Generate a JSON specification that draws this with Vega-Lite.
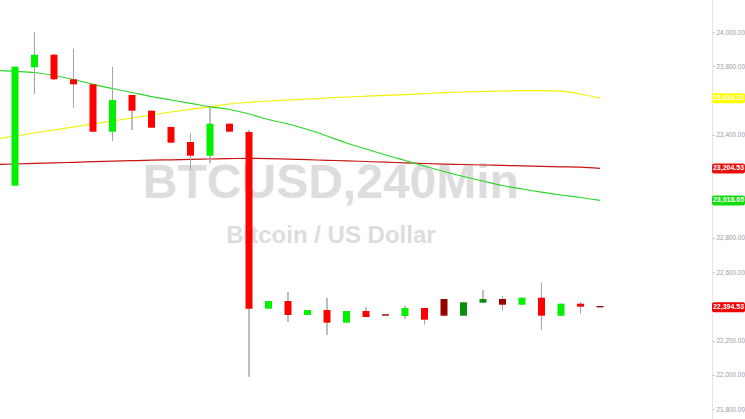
{
  "$schema": "https://vega.github.io/schema/vega-lite/v6.json",
  "width": 712,
  "height": 419,
  "autosize": {"type": "none"},
  "padding": {"left": 0, "top": 0, "right": 33, "bottom": 0},
  "background": "#ffffff",
  "config": {"view": {"stroke": null}, "scale": {"continuousPadding": 0}, "axis": {"labelOverlap": false, "labelFlush": false}},
  "resolve": {"scale": {"color": "independent"}},
  "datasets": {
    "candles": [
      {"i": 1, "open": 23103.8, "high": 23797.7, "low": 23103.8, "close": 23797.7, "kind": "up"},
      {"i": 2, "open": 23794.2, "high": 24000, "low": 23638.5, "close": 23867.6, "kind": "up"},
      {"i": 3, "open": 23867.6, "high": 23870, "low": 23720, "close": 23724.2, "kind": "down"},
      {"i": 4, "open": 23724.2, "high": 23900.9, "low": 23558.6, "close": 23695, "kind": "down"},
      {"i": 5, "open": 23695, "high": 23697, "low": 23416, "close": 23418.7, "kind": "down"},
      {"i": 6, "open": 23418.7, "high": 23795.9, "low": 23366.2, "close": 23603.5, "kind": "up"},
      {"i": 7, "open": 23632.6, "high": 23633, "low": 23428.6, "close": 23541.1, "kind": "down"},
      {"i": 8, "open": 23541.1, "high": 23542, "low": 23440, "close": 23442, "kind": "down"},
      {"i": 9, "open": 23446.1, "high": 23447, "low": 23354, "close": 23354.5, "kind": "down"},
      {"i": 10, "open": 23358.6, "high": 23409.3, "low": 23195.3, "close": 23278.7, "kind": "down"},
      {"i": 11, "open": 23278.7, "high": 23568.5, "low": 23234.4, "close": 23465.3, "kind": "up"},
      {"i": 12, "open": 23465.3, "high": 23466, "low": 23418, "close": 23418.7, "kind": "down"},
      {"i": 13, "open": 23416.9, "high": 23428.6, "low": 21990, "close": 22386.6, "kind": "down"},
      {"i": 14, "open": 22386.6, "high": 22431.5, "low": 22386.6, "close": 22431.5, "kind": "up"},
      {"i": 15, "open": 22431.5, "high": 22483.9, "low": 22310.8, "close": 22349.8, "kind": "down"},
      {"i": 16, "open": 22349.8, "high": 22379, "low": 22349.8, "close": 22379, "kind": "up"},
      {"i": 17, "open": 22379, "high": 22449, "low": 22233.2, "close": 22305, "kind": "down"},
      {"i": 18, "open": 22305, "high": 22373.2, "low": 22305, "close": 22373.2, "kind": "up"},
      {"i": 19, "open": 22373.2, "high": 22396.5, "low": 22338.2, "close": 22338.2, "kind": "down"},
      {"i": 20, "open": 22354, "high": 22354, "low": 22346, "close": 22346, "kind": "down-dark"},
      {"i": 21, "open": 22344, "high": 22404, "low": 22326.5, "close": 22390.6, "kind": "up"},
      {"i": 22, "open": 22390.6, "high": 22391, "low": 22295.6, "close": 22322.4, "kind": "down"},
      {"i": 23, "open": 22443.1, "high": 22443.1, "low": 22345.7, "close": 22345.7, "kind": "down-dark"},
      {"i": 24, "open": 22345.7, "high": 22423.9, "low": 22345.7, "close": 22423.9, "kind": "up-dark"},
      {"i": 25, "open": 22421.6, "high": 22495.6, "low": 22421.6, "close": 22443.1, "kind": "up-dark"},
      {"i": 26, "open": 22443.1, "high": 22460.6, "low": 22377.2, "close": 22409.9, "kind": "down-dark"},
      {"i": 27, "open": 22409.9, "high": 22450.7, "low": 22409.9, "close": 22450.7, "kind": "up"},
      {"i": 28, "open": 22450.7, "high": 22538.2, "low": 22262.4, "close": 22345.7, "kind": "down"},
      {"i": 29, "open": 22345.7, "high": 22415.7, "low": 22345.7, "close": 22415.7, "kind": "up"},
      {"i": 30, "open": 22415.7, "high": 22425.6, "low": 22357.4, "close": 22398.2, "kind": "down"},
      {"i": 31, "open": 22402, "high": 22402, "low": 22394.53, "close": 22394.53, "kind": "down-dark"}
    ],
    "averages": [
      {"i": 0, "fast": 23775.5, "slow": 23376.1, "base": 23228},
      {"i": 1, "fast": 23770.8, "slow": 23393.6, "base": 23230.3},
      {"i": 2, "fast": 23763.8, "slow": 23411.1, "base": 23233.8},
      {"i": 3, "fast": 23746.4, "slow": 23428.6, "base": 23236.7},
      {"i": 4, "fast": 23723, "slow": 23446.1, "base": 23240.2},
      {"i": 5, "fast": 23695, "slow": 23463.5, "base": 23243.7},
      {"i": 6, "fast": 23670.5, "slow": 23481, "base": 23246.6},
      {"i": 7, "fast": 23647.2, "slow": 23498.5, "base": 23249.6},
      {"i": 8, "fast": 23622.7, "slow": 23516, "base": 23252.5},
      {"i": 9, "fast": 23603.5, "slow": 23533.5, "base": 23254.8},
      {"i": 10, "fast": 23584.3, "slow": 23549.3, "base": 23257.1},
      {"i": 11, "fast": 23563.8, "slow": 23563.8, "base": 23259.5},
      {"i": 12, "fast": 23548.1, "slow": 23580.2, "base": 23261.8},
      {"i": 13, "fast": 23521.9, "slow": 23590.1, "base": 23263.5},
      {"i": 14, "fast": 23489.8, "slow": 23597.7, "base": 23261.8},
      {"i": 15, "fast": 23463.5, "slow": 23603.5, "base": 23258.3},
      {"i": 16, "fast": 23431.5, "slow": 23609.3, "base": 23255.4},
      {"i": 17, "fast": 23393.6, "slow": 23615.2, "base": 23251.9},
      {"i": 18, "fast": 23352.8, "slow": 23621, "base": 23249},
      {"i": 19, "fast": 23317.8, "slow": 23625.6, "base": 23244.9},
      {"i": 20, "fast": 23282.8, "slow": 23630.3, "base": 23240.8},
      {"i": 21, "fast": 23250.7, "slow": 23635, "base": 23237.3},
      {"i": 22, "fast": 23218.6, "slow": 23640.8, "base": 23233.2},
      {"i": 23, "fast": 23186.6, "slow": 23646.1, "base": 23229.7},
      {"i": 24, "fast": 23157.4, "slow": 23650.1, "base": 23227.4},
      {"i": 25, "fast": 23131.2, "slow": 23653.1, "base": 23224.5},
      {"i": 26, "fast": 23104.9, "slow": 23656, "base": 23222.1},
      {"i": 27, "fast": 23084.5, "slow": 23657.7, "base": 23219.2},
      {"i": 28, "fast": 23065.9, "slow": 23658.3, "base": 23216.9},
      {"i": 29, "fast": 23049.5, "slow": 23654.8, "base": 23214},
      {"i": 30, "fast": 23035, "slow": 23638.5, "base": 23211.6},
      {"i": 31, "fast": 23018.05, "slow": 23614.12, "base": 23204.53}
    ],
    "markers": [
      {"series": "slow", "value": 23614.12},
      {"series": "base", "value": 23204.53},
      {"series": "fast", "value": 23018.05},
      {"series": "price", "value": 22394.53}
    ]
  },
  "layer": [
    {
      "data": {"name": "candles"},
      "mark": {"type": "rule", "color": "#a6a6a6", "strokeWidth": 1},
      "encoding": {
        "x": {"field": "i", "type": "quantitative", "scale": {"domain": [0.2308, 36.7436], "nice": false, "zero": false, "padding": 0}, "axis": null},
        "y": {"field": "low", "type": "quantitative", "scale": {"domain": [21743.4, 24186.6], "nice": false, "zero": false, "padding": 0},
          "axis": {"orient": "right", "title": null, "grid": false, "values": [21800, 22000, 22200, 22600, 22800, 23400, 23800, 24000, 24200], "format": ",.2f", "labelFont": "Liberation Sans", "labelFontSize": 6.4, "labelColor": "#9c9c9c", "tickColor": "#b8b8b8", "tickSize": 2, "tickWidth": 1, "labelPadding": 2, "domainColor": "#e4e4e4", "domainWidth": 1, "labelFlush": false, "labelOverlap": false}},
        "y2": {"field": "high"}
      }
    },
    {
      "data": {"values": [{"t": "BTCUSD,240Min"}]},
      "mark": {"type": "text", "font": "Liberation Sans", "fontWeight": "bold", "fontSize": 48, "color": "#dddddd", "align": "center", "baseline": "alphabetic"},
      "encoding": {
        "x": {"datum": 17.2, "type": "quantitative"},
        "y": {"datum": 23032, "type": "quantitative"},
        "text": {"field": "t"}
      }
    },
    {
      "data": {"values": [{"t": "Bitcoin / US Dollar"}]},
      "mark": {"type": "text", "font": "Liberation Sans", "fontWeight": "bold", "fontSize": 24, "color": "#dddddd", "align": "center", "baseline": "alphabetic"},
      "encoding": {
        "x": {"datum": 17.2, "type": "quantitative"},
        "y": {"datum": 22769.7, "type": "quantitative"},
        "text": {"field": "t"}
      }
    },
    {
      "data": {"name": "averages"},
      "transform": [{"fold": ["base", "slow", "fast"], "as": ["ma", "value"]}],
      "mark": {"type": "line", "strokeWidth": 1.2, "clip": true, "interpolate": "monotone"},
      "encoding": {
        "x": {"field": "i", "type": "quantitative"},
        "y": {"field": "value", "type": "quantitative"},
        "color": {"field": "ma", "type": "nominal", "scale": {"domain": ["fast", "slow", "base"], "range": ["#2ad62a", "#f2f200", "#c81414"]}, "legend": null},
        "detail": {"field": "ma"}
      }
    },
    {
      "data": {"name": "candles"},
      "mark": {"type": "rule", "color": "#a6a6a6", "strokeWidth": 1},
      "encoding": {
        "x": {"field": "i", "type": "quantitative"},
        "y": {"field": "low", "type": "quantitative"},
        "y2": {"field": "high"}
      }
    },
    {
      "data": {"name": "candles"},
      "mark": {"type": "bar", "size": 7},
      "encoding": {
        "x": {"field": "i", "type": "quantitative"},
        "y": {"field": "open", "type": "quantitative"},
        "y2": {"field": "close"},
        "color": {"field": "kind", "type": "nominal", "scale": {"domain": ["up", "down", "up-dark", "down-dark"], "range": ["#00f000", "#ff0000", "#0a900a", "#960000"]}, "legend": null}
      }
    },
    {
      "data": {"name": "markers"},
      "mark": {"type": "tick", "orient": "horizontal", "size": 33, "thickness": 10, "cornerRadius": 2, "opacity": 1},
      "encoding": {
        "x": {"datum": 37.59, "type": "quantitative"},
        "y": {"field": "value", "type": "quantitative"},
        "color": {"field": "series", "type": "nominal", "scale": {"domain": ["slow", "base", "fast", "price"], "range": ["#ffff00", "#e81010", "#10dc10", "#f00000"]}, "legend": null}
      }
    },
    {
      "data": {"name": "markers"},
      "mark": {"type": "text", "font": "Liberation Sans", "fontWeight": "bold", "fontSize": 7, "color": "#ffffff", "align": "center", "baseline": "middle"},
      "encoding": {
        "x": {"datum": 37.59, "type": "quantitative"},
        "y": {"field": "value", "type": "quantitative"},
        "text": {"field": "value", "type": "quantitative", "format": ",.2f"}
      }
    }
  ]
}
